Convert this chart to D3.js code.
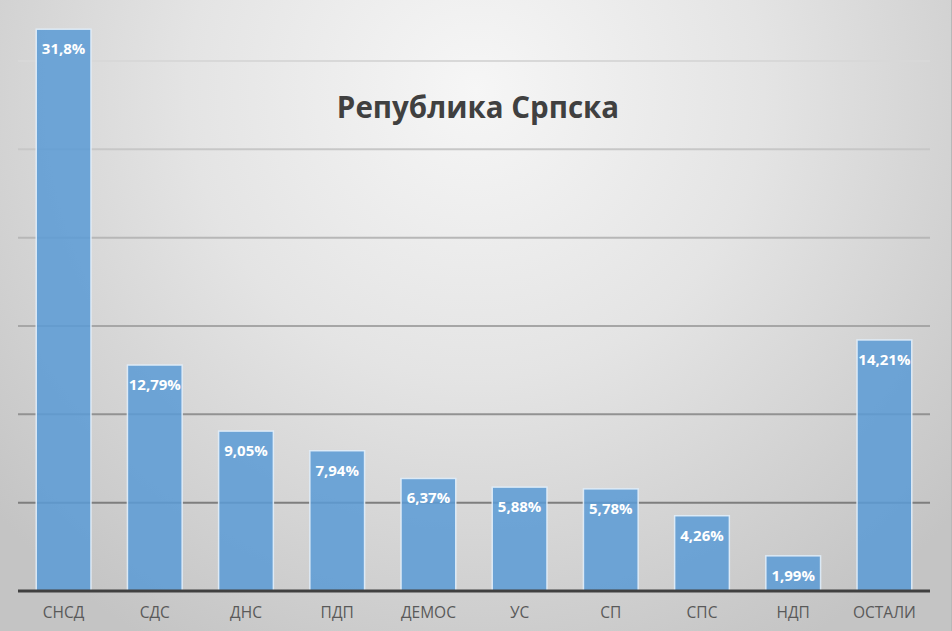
<!DOCTYPE html>
<html><head><meta charset="utf-8">
<script src="https://cdn.jsdelivr.net/npm/d3@7"></script>
<style>html,body{margin:0;padding:0;overflow:hidden;background:#fff}</style>
</head><body>
<script>
const title = "Република Српска";
const categories = ["СНСД","СДС","ДНС","ПДП","ДЕМОС","УС","СП","СПС","НДП","ОСТАЛИ"];
const values = [31.8,12.79,9.05,7.94,6.37,5.88,5.78,4.26,1.99,14.21];
const labels = ["31,8%","12,79%","9,05%","7,94%","6,37%","5,88%","5,78%","4,26%","1,99%","14,21%"];
const gridTicks = [5,10,15,20,25,30];

const W = 952, H = 631;
const svg = d3.select("body").append("svg").attr("width", W).attr("height", H);
const defs = svg.append("defs");
const rg = defs.append("radialGradient").attr("id","bg")
  .attr("gradientUnits","userSpaceOnUse").attr("cx",476).attr("cy",90).attr("r",640)
  .attr("fx",476).attr("fy",90);
rg.append("stop").attr("offset","0").attr("stop-color","#f6f6f6");
rg.append("stop").attr("offset","0.45").attr("stop-color","#e4e4e4");
rg.append("stop").attr("offset","1").attr("stop-color","#c4c4c4");
svg.append("rect").attr("width",W).attr("height",H).attr("fill","url(#bg)");
svg.append("rect").attr("x",W-1).attr("width",1).attr("height",H).attr("fill","#b8b8b8");

const x = d3.scaleBand().domain(categories).range([18, 930]).paddingInner(0.4).paddingOuter(0.2);
const y = d3.scaleLinear().domain([0, 30]).range([591, 61]);
const gridColor = d3.scaleLinear().domain([5, 15, 30]).range(["#7e7e7e", "#a6a6a6", "#d8d8d8"]);

svg.append("g").selectAll("line").data(gridTicks).join("line")
  .attr("x1", 18).attr("x2", 930)
  .attr("y1", d => y(d)).attr("y2", d => y(d))
  .attr("stroke", d => gridColor(d)).attr("stroke-width", 2);

svg.append("text").attr("x", 478).attr("y", 118).attr("text-anchor","middle")
  .attr("font-family","'Open Sans', sans-serif").attr("font-weight","bold")
  .attr("font-size", 29.5).attr("fill","#404040").text(title);

const data = categories.map((c,i)=>({c, v: values[i], l: labels[i]}));
svg.append("g").selectAll("rect").data(data).join("rect")
  .attr("x", d => x(d.c)).attr("width", x.bandwidth())
  .attr("y", d => y(d.v)).attr("height", d => y(0) - y(d.v))
  .attr("fill", "#5b9bd5").attr("fill-opacity", 0.86)
  .attr("stroke", "#e2eefa").attr("stroke-opacity", 0.9).attr("stroke-width", 1.5);

svg.append("g").selectAll("text").data(data).join("text")
  .attr("x", d => x(d.c) + x.bandwidth()/2).attr("y", d => y(d.v) + 25)
  .attr("text-anchor","middle").attr("font-family","'Open Sans', sans-serif")
  .attr("font-weight","bold").attr("font-size", 15).attr("fill","#ffffff")
  .text(d => d.l);

const axis = d3.axisBottom(x).tickSize(0).tickPadding(16);
const ag = svg.append("g").attr("transform", `translate(0,${y(0)})`).call(axis);
ag.select(".domain").attr("stroke","#404040").attr("stroke-width",3).attr("d","M18,0H930");
ag.selectAll("text").attr("font-family","'Open Sans', sans-serif").attr("font-size",15.5).attr("fill","#595959");
</script>
</body></html>
